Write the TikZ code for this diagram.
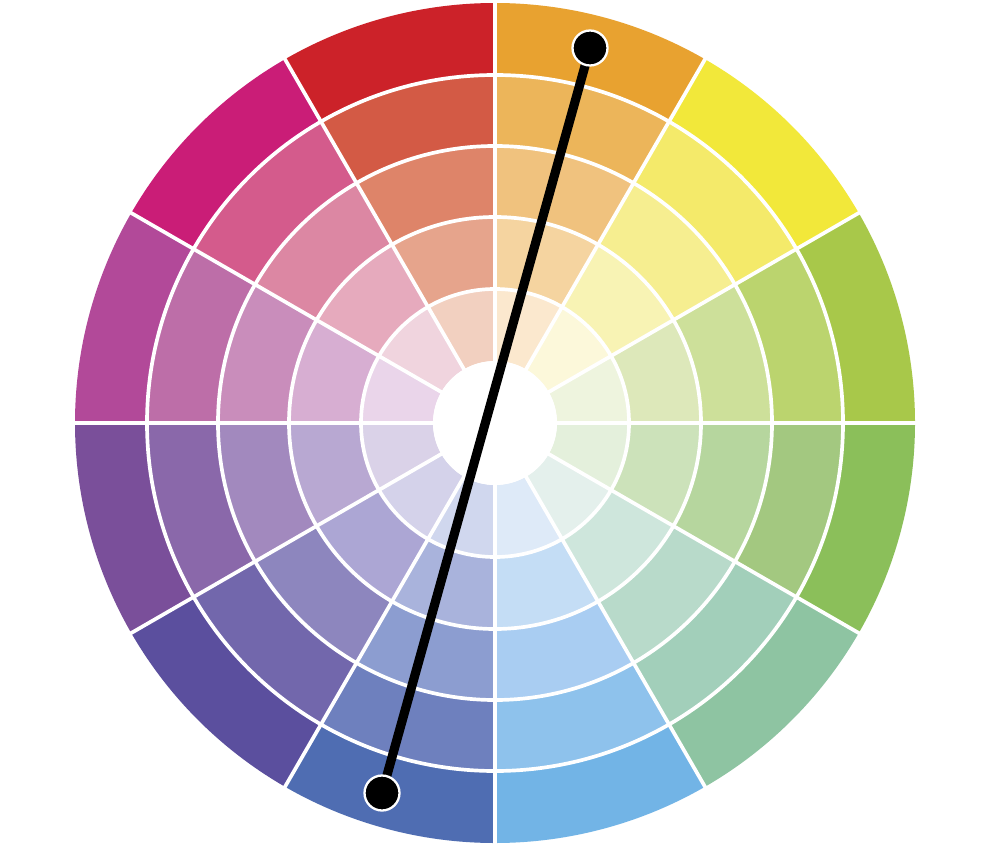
\documentclass[tikz,border=0pt]{standalone}
\usepackage{xcolor}
% sector 0: 0-30 deg (yellow green) ... counter-clockwise
\definecolor{c0-0}{HTML}{A8C84A}\definecolor{c0-1}{HTML}{BBD46E}\definecolor{c0-2}{HTML}{CDE09A}\definecolor{c0-3}{HTML}{DDE8BA}\definecolor{c0-4}{HTML}{EEF4DE}
\definecolor{c1-0}{HTML}{F2E83A}\definecolor{c1-1}{HTML}{F4EA6A}\definecolor{c1-2}{HTML}{F6EE90}\definecolor{c1-3}{HTML}{F8F3B4}\definecolor{c1-4}{HTML}{FCF8DA}
\definecolor{c2-0}{HTML}{E8A230}\definecolor{c2-1}{HTML}{ECB55A}\definecolor{c2-2}{HTML}{F0C27E}\definecolor{c2-3}{HTML}{F5D4A0}\definecolor{c2-4}{HTML}{FBE8CE}
\definecolor{c3-0}{HTML}{CC2229}\definecolor{c3-1}{HTML}{D35A45}\definecolor{c3-2}{HTML}{DE8469}\definecolor{c3-3}{HTML}{E6A48C}\definecolor{c3-4}{HTML}{F2D0C0}
\definecolor{c4-0}{HTML}{CA1D77}\definecolor{c4-1}{HTML}{D45B8C}\definecolor{c4-2}{HTML}{DC87A3}\definecolor{c4-3}{HTML}{E6AABD}\definecolor{c4-4}{HTML}{F0D4DE}
\definecolor{c5-0}{HTML}{B24999}\definecolor{c5-1}{HTML}{BD6EA8}\definecolor{c5-2}{HTML}{C98DBB}\definecolor{c5-3}{HTML}{D7AED2}\definecolor{c5-4}{HTML}{EAD5EA}
\definecolor{c6-0}{HTML}{7A4F9A}\definecolor{c6-1}{HTML}{8A68AA}\definecolor{c6-2}{HTML}{A289BE}\definecolor{c6-3}{HTML}{B8A8D2}\definecolor{c6-4}{HTML}{DAD2E8}
\definecolor{c7-0}{HTML}{5B4F9E}\definecolor{c7-1}{HTML}{7267AC}\definecolor{c7-2}{HTML}{8D86BE}\definecolor{c7-3}{HTML}{ACA6D4}\definecolor{c7-4}{HTML}{D4D2EA}
\definecolor{c8-0}{HTML}{4F6DB2}\definecolor{c8-1}{HTML}{6E80BE}\definecolor{c8-2}{HTML}{8C9DD0}\definecolor{c8-3}{HTML}{A9B3DC}\definecolor{c8-4}{HTML}{D0D7EE}
\definecolor{c9-0}{HTML}{72B4E6}\definecolor{c9-1}{HTML}{8EC2EC}\definecolor{c9-2}{HTML}{A9CDF2}\definecolor{c9-3}{HTML}{C4DDF5}\definecolor{c9-4}{HTML}{DEEAF8}
\definecolor{c10-0}{HTML}{8EC4A2}\definecolor{c10-1}{HTML}{A2CFBA}\definecolor{c10-2}{HTML}{B8DACA}\definecolor{c10-3}{HTML}{CEE6DC}\definecolor{c10-4}{HTML}{E4F0EC}
\definecolor{c11-0}{HTML}{8BBF5A}\definecolor{c11-1}{HTML}{A3C880}\definecolor{c11-2}{HTML}{B6D69E}\definecolor{c11-3}{HTML}{CCE2BA}\definecolor{c11-4}{HTML}{E4F0DC}
\tikzset{
  sep/.style={draw=white, line width=2.1pt},
  conn/.style={draw=black, line width=5.2pt},
  dotnode/.style={circle, fill=black, draw=white, line width=1.3pt, minimum size=0.7cm, inner sep=0pt}
}
\begin{document}
\begin{tikzpicture}[x=0.02cm,y=0.02cm]
\useasboundingbox[fill=white] (0,0) rectangle (1000,850);
\coordinate (O) at (495,427);
\begin{scope}[shift={(495,427)}]
\foreach \s in {0,...,11}{
  \pgfmathsetmacro{\ang}{30*\s}
  \pgfmathsetmacro{\angb}{30*\s+30}
  \foreach \j/\ro/\ri in {0/420/348,1/348/277,2/277/206,3/206/134,4/134/62}{
    \fill[c\s-\j] (\ang:\ro) arc[start angle=\ang, end angle=\angb, radius=\ro]
      -- (\angb:\ri) arc[start angle=\angb, end angle=\ang, radius=\ri] -- cycle;
  }
}
\fill[white] (0,0) circle[radius=62];
\foreach \r in {348,277,206,134}{
  \draw[sep] (0,0) circle[radius=\r];
}
\foreach \a in {0,30,...,330}{
  \draw[sep] (\a:60) -- (\a:421);
}
\end{scope}
\coordinate (p1) at (590,802);
\coordinate (p2) at (382,57);
\draw[conn] (p1) -- (p2);
\node[dotnode] (d1) at (p1) {};
\node[dotnode] (d2) at (p2) {};
\end{tikzpicture}
\end{document}
